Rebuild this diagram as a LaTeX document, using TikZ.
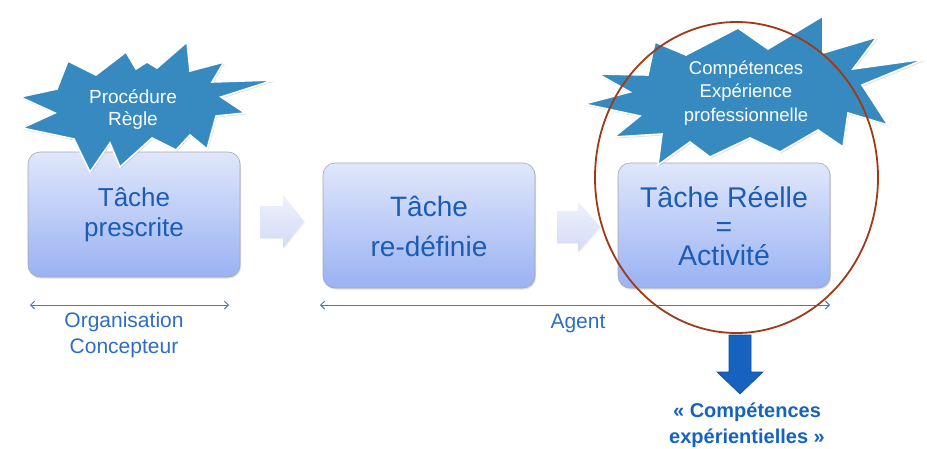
\documentclass[tikz,border=0pt]{standalone}
\usepackage{fontspec}
\setmainfont{Liberation Sans}
\usetikzlibrary{arrows.meta,shadows,calc}
\definecolor{boxtext}{HTML}{1B5DB6}
\definecolor{boxtop}{HTML}{E0E7FB}
\definecolor{boxbot}{HTML}{9AB2F3}
\definecolor{boxline}{HTML}{A4A6B0}
\definecolor{starfill}{HTML}{368AC0}
\definecolor{labelblue}{HTML}{2E6DC4}
\definecolor{linkblue}{HTML}{3B7BC9}
\definecolor{ringbrown}{HTML}{9E3A18}
\definecolor{downblue}{HTML}{1563BF}
\definecolor{arrtop}{HTML}{EEF1FC}
\definecolor{arrbot}{HTML}{D2DBF6}
\tikzset{
  taskbox/.style={draw=boxline, line width=0.6pt, rounded corners=12pt,
    top color=boxtop, bottom color=boxbot,
    drop shadow={opacity=0.25, shadow xshift=1pt, shadow yshift=-1.5pt}},
  boxlabel/.style={text=boxtext, align=center},
  burst/.style={fill=starfill, draw=white, line width=1.6pt, line join=miter,
    drop shadow={opacity=0.25, shadow xshift=1pt, shadow yshift=-1.5pt}},
  bursttext/.style={text=white, align=center, font=\fontsize{19}{22}\selectfont},
  flowarrow/.style={top color=arrtop, bottom color=arrbot, draw=none,
    drop shadow={opacity=0.12, shadow xshift=1pt, shadow yshift=-1pt}},
  span/.style={draw=linkblue, line width=1pt,
    {Straight Barb[length=4pt,width=8pt]}-{Straight Barb[length=4pt,width=8pt]}},
  spanlabel/.style={text=labelblue, align=center, font=\fontsize{21}{26}\selectfont},
}
\begin{document}
\begin{tikzpicture}[x=1pt,y=-1pt]
\useasboundingbox (0,0) rectangle (927,448);

% task boxes
\path[taskbox] (28,152) rectangle (240,277);
\node[boxlabel, font=\fontsize{26}{30}\selectfont] (box1) at (134,214.5) {Tâche\\prescrite};
\path[taskbox] (323,163) rectangle (535,288);
\node[boxlabel, font=\fontsize{28}{40}\selectfont] (box2) at (429,226) {Tâche\\re-définie};
\path[taskbox] (618,163) rectangle (830,288);
\node[boxlabel, font=\fontsize{28.5}{29}\selectfont] (box3) at (724,226) {Tâche Réelle\\=\\Activité};

% flow arrows
\path[flowarrow] (260,206) -- (283,206) -- (283,195) -- (304,221.5) -- (283,248) -- (283,238) -- (260,238) -- cycle;
\path[flowarrow] (557,211) -- (578,211) -- (578,202) -- (600,227) -- (578,252) -- (578,243) -- (557,243) -- cycle;

% star 1
\path[burst] plot coordinates {
 (68,61) (96,75) (126,52) (136,69) (147,62) (157,68) (187,42) (190,71)
 (224,62) (212,82) (274,80) (221,97) (245,113) (216,116) (207,149) (190,135)
 (176,150) (152,138) (120,167) (110,143) (90,172) (74,139) (22,128) (55,113)
 (20,97) (57,89)} -- cycle;
\node[bursttext] (star1) at (133,109) {Procédure\\Règle};

% star 2
\path[burst] plot coordinates {
 (598,74) (648,75) (655,42) (686,55) (738,28) (768,49) (823,16) (823,53)
 (877,37) (853,69) (925,59) (862,85) (888,125) (848,113) (843,147) (818,130)
 (780,152) (750,138) (710,157) (690,142) (658,165) (662,134) (614,137) (640,116)
 (584,104) (630,92)} -- cycle;
\node[bursttext, font=\fontsize{18.5}{23.5}\selectfont] (star2) at (746,93) {Compétences\\Expérience\\professionnelle};

% spans
\coordinate (s1a) at (30,305);
\coordinate (s1b) at (229,305);
\draw[span] (s1a) -- (s1b);
\node[spanlabel] (org) at (124,335) {Organisation\\Concepteur};
\coordinate (s2a) at (320,305);
\coordinate (s2b) at (830,305);
\draw[span] (s2a) -- (s2b);
\node[spanlabel] (agent) at (578,323) {Agent};

% ring
\draw[ringbrown, line width=1.8pt] (736.5,177.5) ellipse [x radius=141.5, y radius=155.5];

% down arrow
\path[fill=downblue, draw=downblue!80!black, line width=0.6pt]
  (729,335) -- (751,335) -- (751,372) -- (763,372) -- (740,394) -- (717,372) -- (729,372) -- cycle;
\node[text=downblue, align=center, font=\bfseries\fontsize{20}{26}\selectfont] (result) at (747,425)
  {« Compétences\\expérientielles »};
\end{tikzpicture}
\end{document}
